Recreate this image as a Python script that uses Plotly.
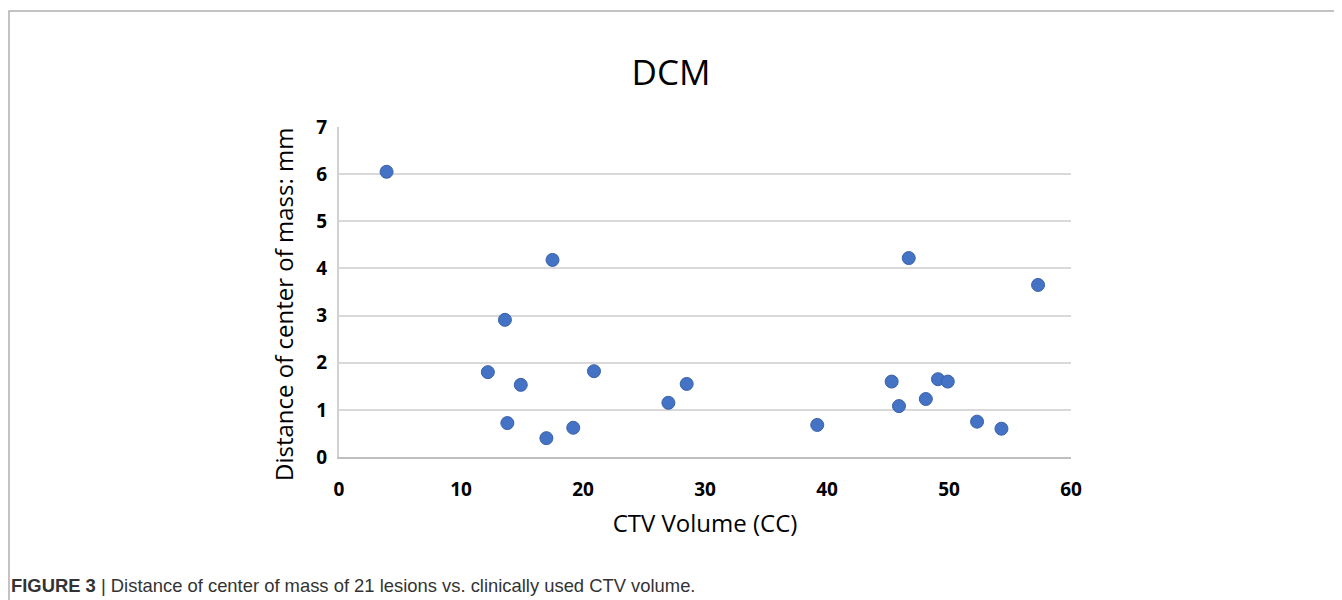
import plotly.graph_objects as go

ctv_volume = [3.9, 12.2, 13.6, 13.8, 14.9, 17.0, 17.5, 19.2, 20.9, 27.0, 28.5,
              39.2, 45.3, 45.9, 46.7, 48.1, 49.1, 49.9, 52.3, 54.3, 57.3]
dcm_mm = [6.05, 1.80, 2.91, 0.72, 1.53, 0.40, 4.18, 0.62, 1.82, 1.15, 1.55,
          0.68, 1.60, 1.08, 4.22, 1.23, 1.65, 1.60, 0.75, 0.60, 3.65]
x_ticks = [0, 10, 20, 30, 40, 50, 60]
y_ticks = [0, 1, 2, 3, 4, 5, 6, 7]

OFF = 8  # page body margin
W, H = 1342 - OFF, 600 - OFF
L, R, T, B = 339 - OFF, 1071 - OFF, 127 - OFF, 457 - OFF


def px(xr):
    return (xr - OFF - L) / (R - L)


def py(yr):
    return (B - (yr - OFF)) / (B - T)


fig = go.Figure()
fig.add_trace(go.Scatter(
    x=ctv_volume, y=dcm_mm, mode="markers",
    marker=dict(size=13, color="#4472C4", line=dict(color="#3A62A8", width=1)),
    hoverinfo="x+y", showlegend=False,
))

tickfont = dict(family="Open Sans, Lato, sans-serif", size=19, color="#000000")
fig.update_layout(
    width=W, height=H,
    margin=dict(l=L, r=W - R, t=T, b=H - B, pad=0),
    paper_bgcolor="white", plot_bgcolor="white",
    title=dict(text="DCM", x=(671 - OFF) / W, xanchor="center", y=1 - (73 - OFF) / H, yanchor="middle",
               font=dict(family="Open Sans, Lato, sans-serif", size=35, color="#000000")),
    xaxis=dict(range=[0, 60], tickvals=x_ticks, ticktext=[f"<b>{v}</b>" for v in x_ticks],
               showgrid=False, zeroline=False, showline=True, linecolor="#bfbfbf", linewidth=2,
               ticks="outside", ticklen=14, tickcolor="rgba(0,0,0,0)", tickfont=tickfont,
               title=dict(text="CTV Volume (CC)", standoff=14,
                          font=dict(family="Open Sans, Lato, sans-serif", size=24, color="#000000")),
               fixedrange=True),
    yaxis=dict(range=[0, 7], tickvals=y_ticks, ticktext=[f"<b>{v}</b>" for v in y_ticks],
               showgrid=True, gridcolor="#d9d9d9", gridwidth=2, zeroline=False,
               showline=True, linecolor="#d0d0d0", linewidth=2,
               ticks="outside", ticklen=6, tickcolor="rgba(0,0,0,0)", tickfont=tickfont,
               fixedrange=True),
)

# y-axis title
fig.add_annotation(xref="paper", yref="paper", x=px(283), y=py(305),
                   xanchor="center", yanchor="middle", textangle=-90, showarrow=False,
                   text="Distance of center of mass: mm",
                   font=dict(family="Open Sans, Lato, sans-serif", size=24, color="#000000"))

# outer frame of the figure panel
fig.add_shape(type="rect", xref="paper", yref="paper",
              x0=px(9), x1=px(1342 + 5), y0=py(600 + 5), y1=py(11),
              line=dict(color="#b0b0b0", width=1.5), fillcolor="rgba(0,0,0,0)", layer="below")

# caption
fig.add_annotation(xref="paper", yref="paper",
                   x=px(9), y=py(585), xanchor="left", yanchor="middle",
                   text="<b>FIGURE 3</b> | Distance of center of mass of 21 lesions vs. clinically used CTV volume.",
                   showarrow=False,
                   font=dict(family="Liberation Sans Narrow, Liberation Sans, Arial, sans-serif",
                             size=18.4, color="#333333"))

fig.write_html("out.html")
